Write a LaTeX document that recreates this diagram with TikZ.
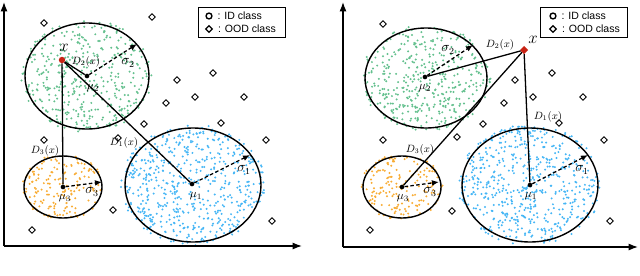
\documentclass[tikz,border=0pt]{standalone}
\usepackage{fontspec}
\usepackage{tikz}
\usetikzlibrary{shapes.geometric, arrows.meta, positioning, calc}
\newfontfamily\legendfont{Liberation Sans}
\definecolor{idgreen}{RGB}{100,192,142}
\definecolor{idblue}{RGB}{70,182,245}
\definecolor{idorange}{RGB}{248,172,52}
\definecolor{xred}{RGB}{200,35,20}

\tikzset{
  ood/.style={diamond, draw, line width=0.8pt, fill=white, inner sep=0pt, minimum size=6pt},
  cluster/.style={draw, line width=1.2pt},
  dist/.style={line width=1.1pt},
  sigarrow/.style={-{Latex[length=6pt,width=5pt]}, dash pattern=on 3pt off 2pt, line width=1.1pt},
  axis/.style={-{Latex[length=8pt,width=6pt]}, line width=1.1pt},
  mean/.style={circle, fill=black, inner sep=0pt, minimum size=4pt},
  lbl/.style={inner sep=1pt},
  legbox/.style={draw, line width=0.8pt, minimum width=2.61cm, minimum height=0.9cm},
  legtext/.style={font=\legendfont\small, inner sep=0pt},
}

% random dots inside an ellipse: cx, cy, rx, ry, count, colour
\newcommand{\dotcloud}[6]{%
  \foreach \k in {1,...,#5}{
    \pgfmathsetmacro{\cang}{360*rnd}
    \pgfmathsetmacro{\crad}{1.06*sqrt(rnd)}
    \fill[#6] ({#1+#3*\crad*cos(\cang)},{#2+#4*\crad*sin(\cang)}) circle (0.95pt);
  }}

\begin{document}
\begin{tikzpicture}[x=0.03cm, y=-0.03cm]
  \useasboundingbox (0,0) rectangle (640,275);
  \pgfmathsetseed{7}

  % ---- panel (a): ID data point ----
  \dotcloud{87}{76}{62}{53}{430}{idgreen}
  \dotcloud{193}{185}{68}{57}{580}{idblue}
  \dotcloud{63}{187}{39}{31}{170}{idorange}

  \coordinate (oA) at (4,246);
  \coordinate (yA) at (4,2);
  \coordinate (xA) at (302,246);
  \draw[axis] (oA) -- (yA);
  \draw[axis] (oA) -- (xA);

  \node[mean] (mA1) at (192,184) {};
  \node[mean] (mA2) at (87,76) {};
  \node[mean] (mA3) at (63,187) {};

  \draw[cluster] (mA2) ellipse [x radius=62, y radius=53];
  \draw[cluster] (193,185) ellipse [x radius=68, y radius=57];
  \draw[cluster] (mA3) ellipse [x radius=39, y radius=31];

  \foreach \px/\py [count=\i] in {44/23, 152/17, 177/80, 213/73, 195/97, 244/97,
      166/103, 144/124, 221/123, 266/140, 44/140, 118/138, 113/210, 32/230, 272/221}
    \node[ood] (oodA\i) at (\px,\py) {};

  \node[circle, fill=xred, inner sep=0pt, minimum size=5.5pt] (ptA) at (62,60) {};
  \coordinate (sA1) at (250,155);
  \coordinate (sA2) at (137,44);
  \coordinate (sA3) at (102,182);
  \draw[dist] (ptA) -- (mA1);
  \draw[dist] (ptA) -- (mA2);
  \draw[dist] (ptA) -- (mA3);
  \draw[sigarrow] (mA1) -- (sA1);
  \draw[sigarrow] (mA2) -- (sA2);
  \draw[sigarrow] (mA3) -- (sA3);

  \node[lbl, font=\Large] (xlA) at (64,48) {$x$};
  \node[lbl, font=\small] (dA2) at (86,62) {$D_2(x)$};
  \node[lbl, font=\small] (dA1) at (124,143) {$D_1(x)$};
  \node[lbl, font=\small] (dA3) at (45,151) {$D_3(x)$};
  \node[lbl, font=\large] (gA2) at (128,63) {$\sigma_2$};
  \node[lbl, font=\large] (gA1) at (244,170) {$\sigma_1$};
  \node[lbl, font=\large] (gA3) at (92,192) {$\sigma_3$};
  \node[lbl] (uA2) at (93,88) {$\mu_2$};
  \node[lbl] (uA1) at (196,196) {$\mu_1$};
  \node[lbl] (uA3) at (65,198) {$\mu_3$};

  \node[legbox] (legA) at (241.5,22) {};
  \node[circle, draw, line width=1.2pt, inner sep=0pt, minimum size=5pt] (legcA) at (209,16) {};
  \node[ood, line width=1.1pt] (legdA) at (209,29) {};
  \node[legtext, right=4pt of legcA] {: ID class};
  \node[legtext, right=4pt of legdA] {: OOD class};

  % ---- panel (b): OOD data point ----
  \dotcloud{426}{78}{61}{50}{430}{idgreen}
  \dotcloud{530}{185}{68}{57}{580}{idblue}
  \dotcloud{402}{187}{39}{31}{170}{idorange}

  \coordinate (oB) at (343,247);
  \coordinate (yB) at (343,2);
  \coordinate (xB) at (638,247);
  \draw[axis] (oB) -- (yB);
  \draw[axis] (oB) -- (xB);

  \node[mean] (mB1) at (530,185) {};
  \node[mean] (mB2) at (425,77) {};
  \node[mean] (mB3) at (402,187) {};

  \draw[cluster] (426,78) ellipse [x radius=61, y radius=50];
  \draw[cluster] (mB1) ellipse [x radius=68, y radius=57];
  \draw[cluster] (mB3) ellipse [x radius=39, y radius=31];

  \foreach \px/\py [count=\i] in {383/24, 552/73, 515/80, 533/97, 583/97, 504/103,
      483/124, 559/123, 604/140, 383/140, 457/137, 452/211, 370/230, 610/221}
    \node[ood] (oodB\i) at (\px,\py) {};

  \node[diamond, fill=xred, inner sep=0pt, minimum size=7pt] (ptB) at (524,50) {};
  \coordinate (sB1) at (588,155);
  \coordinate (sB2) at (473,45);
  \coordinate (sB3) at (439,182);
  \draw[dist] (ptB) -- (mB1);
  \draw[dist] (ptB) -- (mB2);
  \draw[dist] (ptB) -- (mB3);
  \draw[sigarrow] (mB1) -- (sB1);
  \draw[sigarrow] (mB2) -- (sB2);
  \draw[sigarrow] (mB3) -- (sB3);

  \node[lbl, font=\Large] (xlB) at (533,40) {$x$};
  \node[lbl, font=\small] (dB2) at (500,45) {$D_2(x)$};
  \node[lbl, font=\small] (dB1) at (548,117) {$D_1(x)$};
  \node[lbl, font=\small] (dB3) at (420,150) {$D_3(x)$};
  \node[lbl, font=\large] (gB2) at (448,50) {$\sigma_2$};
  \node[lbl, font=\large] (gB1) at (582,170) {$\sigma_1$};
  \node[lbl, font=\large] (gB3) at (430,192) {$\sigma_3$};
  \node[lbl] (uB2) at (425,88) {$\mu_2$};
  \node[lbl] (uB1) at (531,196) {$\mu_1$};
  \node[lbl] (uB3) at (403,198) {$\mu_3$};

  \node[legbox] (legB) at (584,22) {};
  \node[circle, draw, line width=1.2pt, inner sep=0pt, minimum size=5pt] (legcB) at (553,16) {};
  \node[ood, line width=1.1pt] (legdB) at (553,29) {};
  \node[legtext, right=4pt of legcB] {: ID class};
  \node[legtext, right=4pt of legdB] {: OOD class};
\end{tikzpicture}
\end{document}
